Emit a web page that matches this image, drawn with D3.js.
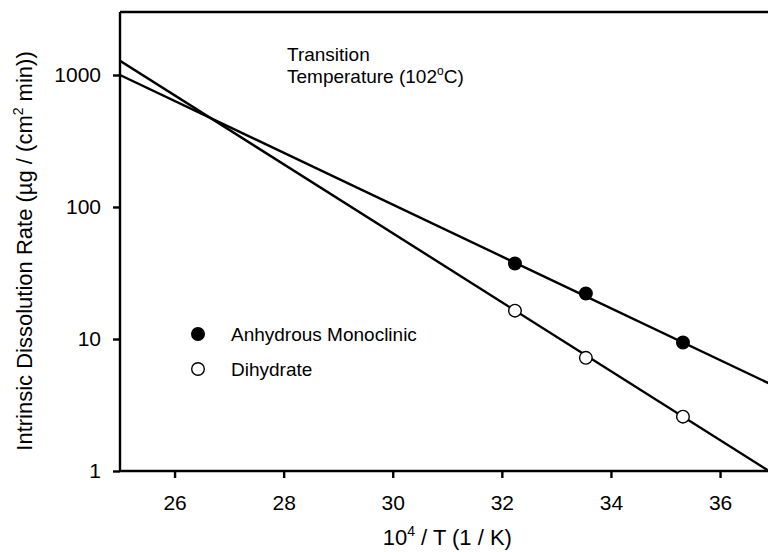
<!DOCTYPE html>
<html>
<head>
<meta charset="utf-8">
<script src="https://cdn.jsdelivr.net/npm/d3@7"></script>
<style>
  html, body { margin: 0; padding: 0; background: #fff; }
  svg { display: block; font-family: "Liberation Sans", Arial, sans-serif; }
</style>
</head>
<body>
<svg id="chart" width="768" height="552"></svg>
<script>
// Measured inverse temperatures (10^4 / T, 1/K) at 37, 25 and 10 °C
const invTemp = [32.24, 33.54, 35.32];
// Intrinsic dissolution rates, µg / (cm² min)
const anhydrousRate = [37.3, 22.1, 9.4];
const dihydrateRate = [16.4, 7.2, 2.58];
// Van't Hoff fit lines, evaluated at the ends of the x range
const fitX = [25, 37];
const anhydrousFit = [1000, 4.4];
const dihydrateFit = [1280, 0.94];
// Axis ticks
const xTicks = [26, 28, 30, 32, 34, 36];
const yTicks = [1, 10, 100, 1000];

const svg = d3.select("#chart");
const plotLeft = 120, plotTop = 12, plotRight = 774.6, plotBottom = 471;

const x = d3.scaleLinear().domain([25, 37]).range([plotLeft, plotRight]);
const y = d3.scaleLog().domain([1, 3000]).range([plotBottom, plotTop]);

const ink = "#000";
const tickFont = 21, titleFont = 22, bodyFont = 19;

// Clip region for the fit lines
svg.append("defs").append("clipPath").attr("id", "plot-clip")
  .append("rect").attr("x", plotLeft).attr("y", plotTop)
  .attr("width", plotRight - plotLeft).attr("height", plotBottom - plotTop);

// Fit lines
const line = d3.line().x(d => x(d[0])).y(d => y(d[1]));
[anhydrousFit, dihydrateFit].forEach(fit => {
  svg.append("path")
    .attr("clip-path", "url(#plot-clip)")
    .attr("d", line(fitX.map((v, i) => [v, fit[i]])))
    .attr("fill", "none").attr("stroke", ink).attr("stroke-width", 2.4);
});

// Frame: top edge (right edge falls outside the page)
svg.append("line").attr("x1", plotLeft).attr("x2", plotRight)
  .attr("y1", plotTop).attr("y2", plotTop)
  .attr("stroke", ink).attr("stroke-width", 2.4);

// Axes
const xAxis = svg.append("g").attr("transform", `translate(0,${plotBottom})`)
  .call(d3.axisBottom(x).tickValues(xTicks).tickSize(7).tickPadding(17).tickSizeOuter(0));
const yAxis = svg.append("g").attr("transform", `translate(${plotLeft},0)`)
  .call(d3.axisLeft(y).tickValues(yTicks).tickFormat(d3.format("d")).tickSize(7).tickPadding(12).tickSizeOuter(0));
[xAxis, yAxis].forEach(g => {
  g.select(".domain").attr("stroke", ink).attr("stroke-width", 2.4);
  g.selectAll(".tick line").attr("stroke", ink).attr("stroke-width", 2.4);
  g.selectAll(".tick text").attr("fill", ink).attr("font-size", tickFont)
    .attr("font-family", "Liberation Sans, Arial, sans-serif");
});
xAxis.select(".domain").attr("d", `M${plotLeft},0H${plotRight}`);
yAxis.select(".domain").attr("d", `M0,${plotTop}V${plotBottom}`);

// Data points
const series = [
  { name: "Anhydrous Monoclinic", values: anhydrousRate, fill: ink },
  { name: "Dihydrate", values: dihydrateRate, fill: "#fff" }
];
series.forEach(s => {
  svg.append("g").selectAll("circle")
    .data(invTemp.map((t, i) => [t, s.values[i]]))
    .join("circle")
    .attr("cx", d => x(d[0])).attr("cy", d => y(d[1]))
    .attr("r", 6.3)
    .attr("fill", s.fill).attr("stroke", ink).attr("stroke-width", 1.4);
});

// Legend
const legend = svg.append("g").attr("transform", "translate(198,334)");
series.forEach((s, i) => {
  const row = legend.append("g").attr("transform", `translate(0,${i * 35})`);
  row.append("circle").attr("r", 6.3).attr("fill", s.fill)
    .attr("stroke", ink).attr("stroke-width", 1.4);
  row.append("text").attr("x", 33).attr("y", 7).attr("font-size", bodyFont)
    .attr("fill", ink).text(s.name);
});

// Annotation
const note = svg.append("text").attr("x", 287).attr("y", 61)
  .attr("font-size", bodyFont).attr("fill", ink);
note.append("tspan").attr("x", 287).text("Transition");
const l2 = note.append("tspan").attr("x", 287).attr("dy", 22).text("Temperature (102");
l2.append("tspan").attr("font-size", 12).attr("dy", -8).text("o");
l2.append("tspan").attr("dy", 8).text("C)");

// X axis title
const xt = svg.append("text").attr("x", (plotLeft + plotRight) / 2).attr("y", 545)
  .attr("text-anchor", "middle").attr("font-size", titleFont).attr("fill", ink);
xt.append("tspan").text("10");
xt.append("tspan").attr("font-size", 14).attr("dy", -9).text("4");
xt.append("tspan").attr("dy", 9).text(" / T (1 / K)");

// Y axis title
const yt = svg.append("text")
  .attr("transform", "translate(32,251) rotate(-90)")
  .attr("text-anchor", "middle").attr("font-size", titleFont).attr("fill", ink);
yt.append("tspan").text("Intrinsic Dissolution Rate (µg / (cm");
yt.append("tspan").attr("font-size", 14).attr("dy", -9).text("2");
yt.append("tspan").attr("dy", 9).text(" min))");
</script>
</body>
</html>
